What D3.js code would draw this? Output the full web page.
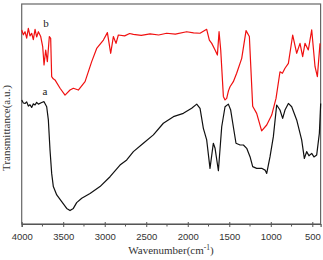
<!DOCTYPE html>
<html><head><meta charset="utf-8">
<script src="https://cdn.jsdelivr.net/npm/d3@7"></script>
<style>html,body{margin:0;padding:0;background:#fff;}svg{display:block;}</style>
</head><body><svg id="c" width="323" height="260"></svg>
<script>
// Curve b (red)
const wnB = [4000,3980,3960,3940,3920,3900,3880,3860,3839,3820,3799,3771,3747,3731,3711,3691,3667,3651,3639,3620,3599,3538,3478,3418,3378,3318,3237,3157,3097,3016,2968,2928,2896,2864,2836,2760,2700,2655,2560,2454,2350,2254,2150,2013,1930,1852,1772,1740,1711,1671,1643,1623,1603,1571,1551,1531,1510,1491,1451,1411,1350,1298,1258,1218,1170,1110,1049,989,937,889,860,829,788,736,688,648,616,588,548,507,467,439,407];
const tB  = [88.2,86.0,87.4,84.5,88.9,85.5,86.7,83.8,88.5,85.0,87.4,85.2,80.6,72.3,79.1,73.8,85.2,84.4,67.0,66.0,65.5,61.7,58.6,60.9,61.7,60.9,64.7,73.8,79.8,83.6,87.0,77.6,85.2,82.1,85.9,85.5,86.6,86.2,85.7,86.4,85.9,86.7,86.3,87.4,86.9,86.7,88.5,83.6,82.1,79.1,76.8,87.4,79.1,58.0,56.4,57.1,60.5,62.4,64.7,68.5,75.3,87.9,85.2,53.5,50.3,42.3,45.0,49.5,57.1,69.2,68.5,70.8,73.0,85.9,77.6,82.1,76.1,82.1,79.1,88.2,71.5,67.0,82.1];
// Curve a (black)
const wnA = [4000,3980,3960,3940,3920,3900,3880,3860,3839,3820,3799,3759,3731,3699,3679,3659,3639,3619,3578,3518,3458,3418,3378,3338,3277,3177,3057,2936,2816,2735,2655,2535,2414,2294,2173,2053,1953,1892,1852,1812,1772,1732,1692,1671,1631,1591,1551,1511,1483,1451,1419,1370,1330,1290,1250,1218,1170,1110,1069,1049,1009,969,929,889,857,829,788,748,688,628,596,568,540,507,480,447,415,399];
const tA  = [56.4,55.0,54.8,55.5,53.6,54.2,53.0,54.6,54.1,55.3,54.5,55.2,55.6,53.3,47.3,33.6,23.0,17.0,13.2,10.2,7.1,6.1,7.1,9.7,11.7,13.9,17.0,21.5,26.8,29.1,32.9,36.7,40.5,45.8,48.8,50.3,52.6,54.5,52.6,43.5,38.2,25.3,36.7,34.4,24.2,44.2,53.3,54.5,51.8,44.2,36.7,35.9,35.9,34.4,30.6,26.1,25.3,25.3,24.5,23.0,30.6,39.7,54.1,51.8,48.0,51.8,54.8,53.3,47.3,38.2,29.8,32.9,31.0,32.1,30.5,31.4,41.2,54.8];
const xTicks = [4000,3500,3000,2500,2000,1500,1000,500];
const xMinor = [3750,3250,2750,2250,1750,1250,750];
const seriesLabels = ["a","b"];

const svg = d3.select("#c");
const L = 21.7, R = 320.6, T = 4, B = 224;
const x = d3.scaleLinear().domain([4000, 400]).range([L, R]);
const y = d3.scaleLinear().domain([0, 100]).range([B, T]);

// frame
svg.append("rect").attr("x", L).attr("y", T).attr("width", R - L).attr("height", B - T)
  .attr("fill", "none").attr("stroke", "#666").attr("stroke-width", 1.2);

const line = d3.line().x(d => x(d[0])).y(d => y(d[1]));
svg.append("path").datum(wnB.map((w, i) => [w, tB[i]])).attr("d", line)
  .attr("fill", "none").attr("stroke", "#f01010").attr("stroke-width", 1.2).attr("stroke-linejoin", "round");
svg.append("path").datum(wnA.map((w, i) => [w, tA[i]])).attr("d", line)
  .attr("fill", "none").attr("stroke", "#111").attr("stroke-width", 1.2).attr("stroke-linejoin", "round");

// x axis
const ax = svg.append("g").attr("transform", `translate(0,${B})`)
  .call(d3.axisBottom(x).tickValues(xTicks).tickSize(3).tickPadding(6).tickFormat(d3.format("d")));
ax.select(".domain").attr("stroke", "#555").attr("stroke-width", 1.2);
ax.selectAll(".tick line").attr("stroke", "#555").attr("y1", -2).attr("y2", 3);
ax.selectAll(".tick text").attr("font-family", "Liberation Sans, Arial, sans-serif")
  .attr("font-size", "9.5px").attr("fill", "#333");
svg.append("g").attr("transform", `translate(0,${B})`).selectAll("line").data(xMinor).join("line")
  .attr("x1", d => x(d)).attr("x2", d => x(d)).attr("y1", 0).attr("y2", 2.5)
  .attr("stroke", "#555").attr("stroke-width", 1);

// axis titles
const xt = svg.append("text").attr("x", 171).attr("y", 254).attr("text-anchor", "middle")
  .attr("font-family", "Liberation Serif, Times New Roman, serif").attr("font-size", "11px").attr("fill", "#333");
xt.append("tspan").text("Wavenumber(cm");
xt.append("tspan").attr("dy", -4).attr("font-size", "7.5px").text("-1");
xt.append("tspan").attr("dy", 4).text(")");

svg.append("text").attr("transform", "translate(10,128) rotate(-90)").attr("text-anchor", "middle")
  .attr("font-family", "Liberation Serif, Times New Roman, serif").attr("font-size", "11px").attr("fill", "#333")
  .text("Transmittance(a.u.)");

// series labels
svg.append("text").attr("x", 46).attr("y", 27).attr("text-anchor", "middle")
  .attr("font-family", "Liberation Serif, Times New Roman, serif").attr("font-size", "11px").attr("fill", "#222")
  .text(seriesLabels[1]);
svg.append("text").attr("x", 45).attr("y", 95).attr("text-anchor", "middle")
  .attr("font-family", "Liberation Serif, Times New Roman, serif").attr("font-size", "11px").attr("fill", "#222")
  .text(seriesLabels[0]);
</script></body></html>
